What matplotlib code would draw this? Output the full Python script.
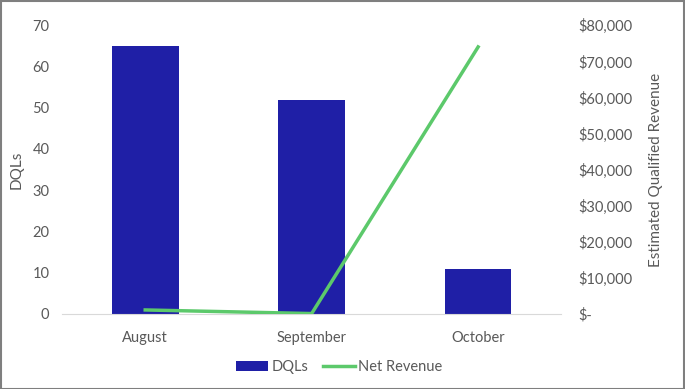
import matplotlib.pyplot as plt
from matplotlib.ticker import FuncFormatter

plt.rcParams['font.family'] = ['Lato', 'DejaVu Sans']

months = ["August", "September", "October"]
dqls = [65, 52, 11]
net_revenue = [1100, 100, 74000]

fig = plt.figure(figsize=(6.85, 3.89), dpi=100)
ax = fig.add_axes([0.0905, 0.193, 0.729, 0.742])
x = range(len(months))

bars = ax.bar(x, dqls, width=0.4, color="#1f1fa6", label="DQLs", zorder=2)
ax.set_xlim(-0.5, 2.5)
ax.set_ylim(0, 70)
ax.set_yticks(range(0, 71, 10))
ax.set_xticks(list(x))
ax.set_xticklabels(months)
ax.set_ylabel("DQLs", color="#595959", fontsize=11, labelpad=6)

ax2 = ax.twinx()
line, = ax2.plot(x, net_revenue, color="#5cc96b", linewidth=2.5, label="Net Revenue", zorder=3)
ax2.set_ylim(0, 80000)
ax2.set_yticks(range(0, 80001, 10000))
ax2.yaxis.set_major_formatter(FuncFormatter(lambda v, p: "$-" if v == 0 else f"${v:,.0f}"))
ax2.set_ylabel("Estimated Qualified Revenue", color="#595959", fontsize=11, labelpad=12)

for a in (ax, ax2):
    for s in a.spines.values():
        s.set_visible(False)
    a.tick_params(length=0, colors="#595959", labelsize=10.5)
ax.spines["bottom"].set_visible(True)
ax.spines["bottom"].set_color("#d9d9d9")
ax.tick_params(axis="y", pad=9)
ax.tick_params(axis="x", pad=12)
ax2.tick_params(axis="y", pad=12)

fig.legend([bars, line], ["DQLs", "Net Revenue"], loc="center",
           bbox_to_anchor=(0.495, 0.057), ncol=2, frameon=False, fontsize=10.5,
           labelcolor="#595959", handlelength=2.2, columnspacing=1.0, handletextpad=0.2)

fig.patches.append(plt.Rectangle((0.001, 0.001), 0.997, 0.997, transform=fig.transFigure,
                                 fill=False, edgecolor="#7f7f7f", linewidth=1.5))
fig.savefig("out.png", dpi=100)
